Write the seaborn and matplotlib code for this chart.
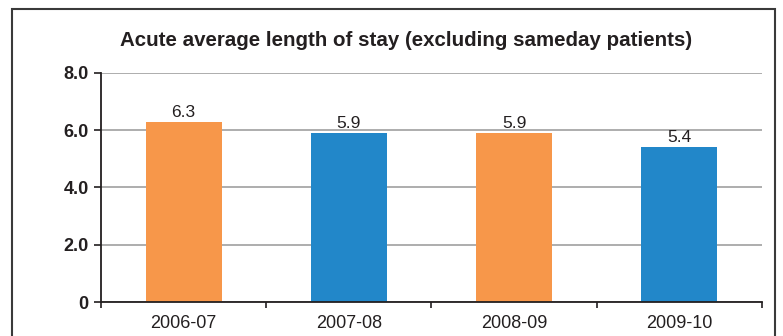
import matplotlib
matplotlib.use("Agg")
import matplotlib.pyplot as plt
from matplotlib.patches import Rectangle
import seaborn as sns
import pandas as pd

# Financial years and acute average length of stay (days)
years = ["2006-07", "2007-08", "2008-09", "2009-10"]
avg_stay = [6.3, 5.9, 5.9, 5.4]
bar_colors = ["#F7974A", "#2287C9", "#F7974A", "#2287C9"]
y_ticks = [0, 2, 4, 6, 8]
y_tick_labels = ["0", "2.0", "4.0", "6.0", "8.0"]
title = "Acute average length of stay (excluding sameday patients)"

sns.set_theme(style="white")
plt.rcParams["font.family"] = ["Liberation Sans", "DejaVu Sans"]

df = pd.DataFrame({"year": years, "stay": avg_stay})

fig = plt.figure(figsize=(7.83, 3.36), dpi=100)
ax = fig.add_axes([0.129, 0.101, 0.844, 0.682])

sns.barplot(data=df, x="year", y="stay", hue="year", palette=bar_colors,
            width=0.46, legend=False, ax=ax, saturation=1, linewidth=0)

ax.set_ylim(0, 8)
ax.set_xlim(-0.5, 3.5)
ax.set_yticks(y_ticks)
ax.set_yticklabels(y_tick_labels, fontsize=13, fontweight="bold", color="#231F20")
ax.set_xticks(range(len(years)))
ax.set_xticklabels(years, fontsize=13, color="#231F20")
ax.set_xticks([-0.5, 0.5, 1.5, 2.5, 3.5], minor=True)
ax.tick_params(axis="x", which="major", length=0, pad=9)
ax.tick_params(axis="x", which="minor", length=4, width=1.2, color="#231F20", direction="out", bottom=True)
ax.tick_params(axis="y", length=5, width=1.2, color="#231F20", direction="out", left=True, pad=4)
ax.set_xlabel("")
ax.set_ylabel("")

ax.yaxis.grid(True, color="#A0A0A0", linewidth=1.2)
ax.set_axisbelow(True)
for side in ("top", "right"):
    ax.spines[side].set_visible(False)
for side in ("left", "bottom"):
    ax.spines[side].set_color("#231F20")
    ax.spines[side].set_linewidth(1.3)

for i, v in enumerate(avg_stay):
    ax.annotate(f"{v:.1f}", xy=(i, v), xytext=(0, 1.5), textcoords="offset points",
                ha="center", va="bottom", fontsize=12.5, color="#231F20")

fig.text(406 / 783, 1 - 40 / 336, title, ha="center", va="center",
         fontsize=14.8, fontweight="bold", color="#231F20")

# Panel frame around the chart
frame = Rectangle((12 / 783, -0.1), (775 - 12) / 783, 1.1 - 9 / 336,
                  transform=fig.transFigure, fill=False,
                  edgecolor="#3A3A3A", linewidth=1.5, clip_on=False)
fig.patches.append(frame)

fig.savefig("out.png", dpi=100)
